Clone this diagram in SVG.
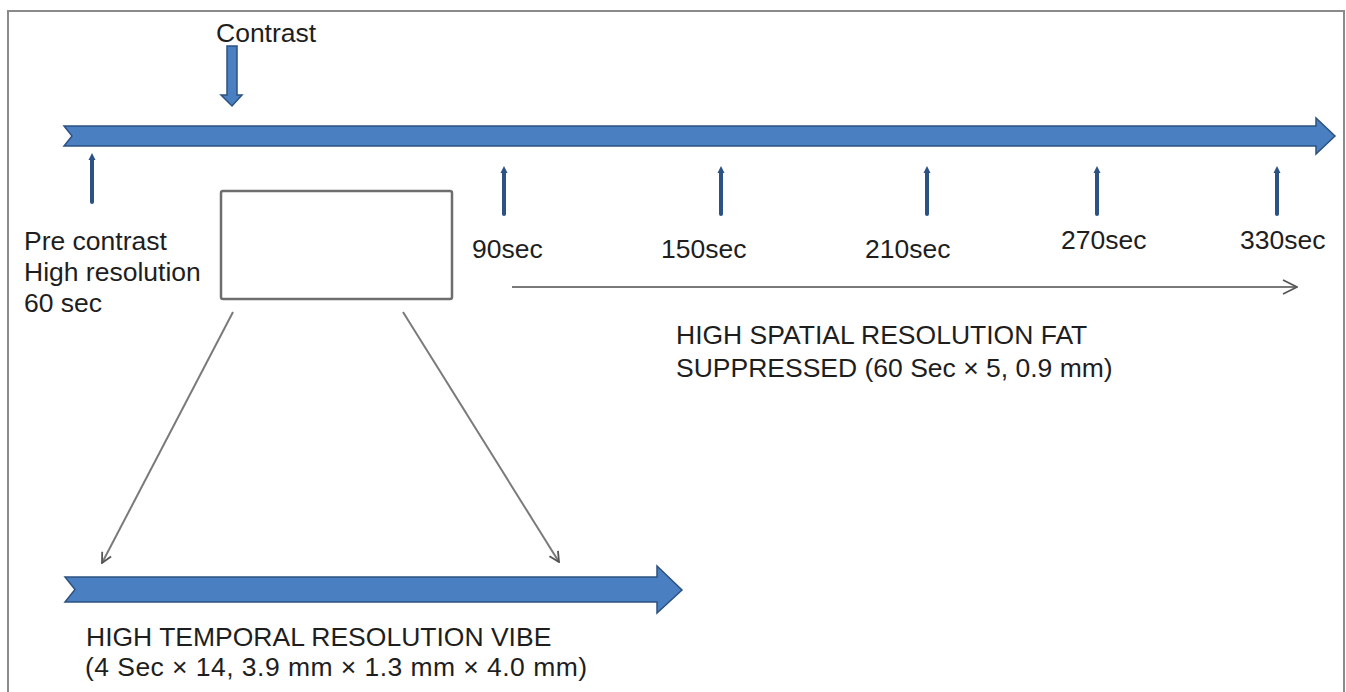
<svg xmlns="http://www.w3.org/2000/svg" width="1346" height="692" viewBox="0 0 1346 692">
<style>
  text { font-family: "Liberation Sans", Arial, sans-serif; font-size: 26.5px; fill: #1e1e1e; }
  .big { fill: #4a7fc1; stroke: #2d5280; stroke-width: 1.5; stroke-linejoin: miter; }
  .tick { fill: none; stroke: #2b5283; stroke-width: 4; stroke-linecap: round; }
  .tickhead { fill: #2b5283; }
  .thin { fill: none; stroke: #7a7a7a; stroke-width: 2; }
  .box { fill: #ffffff; stroke: #6e6e6e; stroke-width: 2.5; }
</style>
<defs>
  <marker id="open" viewBox="0 0 12 12" refX="11" refY="6" markerWidth="12" markerHeight="12" markerUnits="userSpaceOnUse" orient="auto">
    <path d="M1,1 L11,6 L1,11" fill="none" stroke="#555" stroke-width="1.8"/>
  </marker>
  <marker id="open2" viewBox="0 0 16 16" refX="15" refY="8" markerWidth="16" markerHeight="16" markerUnits="userSpaceOnUse" orient="auto">
    <path d="M1,1 L15,8 L1,15" fill="none" stroke="#555" stroke-width="1.8"/>
  </marker>
</defs>
<rect x="0" y="0" width="1346" height="692" fill="#ffffff"/>
<path d="M8,692 V11 H1344 V692" fill="none" stroke="#8a8a8a" stroke-width="2"/>

<g id="main-timeline">
  <path class="big" d="M64,126 H1316 V118 L1335,136 L1316,154 V146 H64 L72,136 Z"/>
</g>

<g id="contrast">
  <text x="216" y="42">Contrast</text>
  <path class="big" d="M227,46 H237 V95 H242 L232,106 L221,95 H227 Z"/>
</g>

<g id="pre-contrast">
  <line class="tick" x1="92" y1="159" x2="92" y2="202"/>
  <path class="tickhead" d="M88.5,160 L92,153 L95.5,160 Z"/>
  <text x="24" y="250">Pre contrast</text>
  <text x="24" y="281">High resolution</text>
  <text x="24" y="312">60 sec</text>
</g>

<g id="vibe-window">
  <rect class="box" x="221" y="191" width="231" height="108" rx="2"/>
</g>

<g id="t90">
  <line class="tick" x1="504" y1="172" x2="504" y2="214"/>
  <path class="tickhead" d="M500.5,173 L504,166 L507.5,173 Z"/>
  <text x="472" y="258">90sec</text>
</g>
<g id="t150">
  <line class="tick" x1="721" y1="172" x2="721" y2="214"/>
  <path class="tickhead" d="M717.5,173 L721,166 L724.5,173 Z"/>
  <text x="661" y="258">150sec</text>
</g>
<g id="t210">
  <line class="tick" x1="927" y1="172" x2="927" y2="214"/>
  <path class="tickhead" d="M923.5,173 L927,166 L930.5,173 Z"/>
  <text x="865" y="258">210sec</text>
</g>
<g id="t270">
  <line class="tick" x1="1097" y1="172" x2="1097" y2="214"/>
  <path class="tickhead" d="M1093.5,173 L1097,166 L1100.5,173 Z"/>
  <text x="1061" y="249">270sec</text>
</g>
<g id="t330">
  <line class="tick" x1="1277" y1="172" x2="1277" y2="214"/>
  <path class="tickhead" d="M1273.5,173 L1277,166 L1280.5,173 Z"/>
  <text x="1240" y="249">330sec</text>
</g>

<g id="spatial-label">
  <text x="676" y="344">HIGH SPATIAL RESOLUTION FAT</text>
  <text x="676" y="377">SUPPRESSED (60 Sec × 5, 0.9 mm)</text>
</g>

<g id="vibe-timeline">
  <path class="big" d="M65,577 H657 V566 L682,590 L657,613 V602 H65 L75,589.5 Z"/>
  <text x="86" y="646">HIGH TEMPORAL RESOLUTION VIBE</text>
  <text x="85" y="676" textLength="502" lengthAdjust="spacing">(4 Sec × 14, 3.9 mm × 1.3 mm × 4.0 mm)</text>
</g>

<g id="connectors">
  <line class="thin" x1="512" y1="287" x2="1297" y2="287" marker-end="url(#open2)"/>
  <line class="thin" x1="233" y1="312" x2="102" y2="563" marker-end="url(#open)"/>
  <line class="thin" x1="403" y1="312" x2="559" y2="562" marker-end="url(#open)"/>
</g>
</svg>
